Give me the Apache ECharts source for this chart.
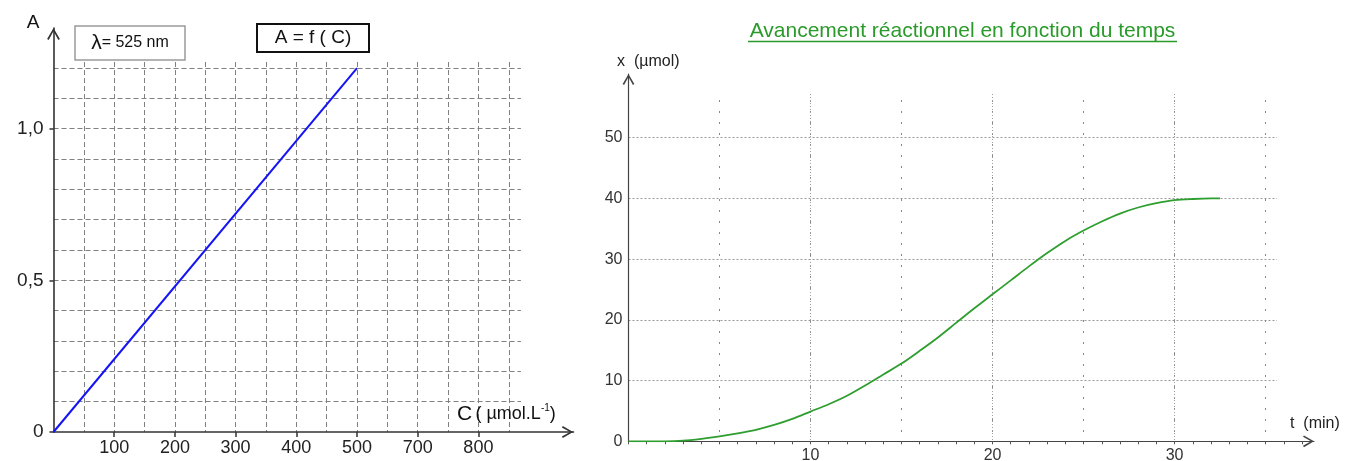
<!DOCTYPE html>
<html><head><meta charset="utf-8">
<script src="https://cdn.jsdelivr.net/npm/echarts@6/dist/echarts.min.js"></script>
<style>html,body{margin:0;padding:0;background:#fff}#c{width:1348px;height:461px}</style>
</head><body><div id="c"></div>
<script>
// ---------- Left chart: A = f(C) ----------
const concentration = [0, 500];          // C (µmol.L-1)
const absorbance = [0, 1.2];             // A
const leftXTickValues = [100, 200, 300, 400, 500, 600, 700];
const leftXTickLabels = ['100', '200', '300', '400', '500', '700', '800'];
const leftYTickValues = [0, 0.5, 1.0];
const leftYTickLabels = ['0', '0,5', '1,0'];

// ---------- Right chart: x = f(t) ----------
const time = [0,1,2,3,4,5,6,7,8,9,10,11,12,13,14,15,16,17,18,19,20,21,22,23,24,25,26,27,28,29,30,31,32,32.5];
const advancement = [0,0,0,0.1,0.4,0.8,1.3,1.9,2.7,3.7,4.9,6.1,7.5,9.2,11.0,12.8,14.9,17.1,19.5,21.9,24.2,26.5,28.8,31.0,33.0,34.7,36.2,37.5,38.5,39.2,39.7,39.9,40.0,40.0];
const rightXTickValues = [10, 20, 30];
const rightYTickValues = [0, 10, 20, 30, 40, 50];
const rightMinorTicks = [0,1,2,3,4,5,6,7,8,9,10,11,12,13,14,15,16,17,18,19,20,21,22,23,24,25,26,27,28,29,30,31,32,33,34,35,36,37];

const FONT = '"Liberation Sans", Arial, sans-serif';
const chevron = 'path://M5,0 L10,8.6 L8.8,9.4 L5,2.6 L1.2,9.4 L0,8.6 Z';

function pick(values, labels, v) {
  for (let i = 0; i < values.length; i++) if (Math.abs(values[i] - v) < 1e-6) return labels[i];
  return '';
}
const hidden = { show: false };
const splitOnly = (gi, min, max, interval, style) => ({
  gridIndex: gi, type: 'value', min, max, interval,
  axisLine: hidden, axisTick: hidden, axisLabel: hidden,
  splitLine: { show: true, showMinLine: false, showMaxLine: false, lineStyle: style }
});

const chart = echarts.init(document.getElementById('c'), null, { renderer: 'canvas' });
chart.setOption({
  animation: false,
  backgroundColor: '#fff',
  textStyle: { fontFamily: FONT },
  grid: [
    { left: 53.5, top: 62, width: 467.4, height: 370, outerBoundsMode: 'none' },     // L1 grid lines
    { left: 53.5, top: 28, width: 520, height: 404, outerBoundsMode: 'none' },       // L2 axes
    { left: 628.5, top: 100, width: 648.5, height: 341.3, outerBoundsMode: 'none' }, // R1 grid lines
    { left: 628.5, top: 94, width: 648.5, height: 347.3, outerBoundsMode: 'none' },  // R3 10-min lines
    { left: 628.5, top: 74, width: 685.5, height: 367.3, outerBoundsMode: 'none' }   // R2 axes
  ],
  xAxis: [
    splitOnly(0, 0, 770, 50, { color: '#808080', type: [5, 3], width: 1 }),
    {
      gridIndex: 1, type: 'value', min: 0, max: 856.7,
      axisLine: { show: true, symbol: ['none', chevron], symbolSize: [12, 12], symbolOffset: [0, -6],
                  lineStyle: { color: '#333', width: 1.6 } },
      axisTick: { show: true, customValues: leftXTickValues, length: 5, lineStyle: { color: '#333', width: 1.5 } },
      axisLabel: { show: true, customValues: leftXTickValues, margin: 7, fontSize: 18, color: '#222', fontFamily: FONT,
                   formatter: v => pick(leftXTickValues, leftXTickLabels, v) },
      splitLine: hidden
    },
    splitOnly(2, 0, 35.63, 5, { color: '#888', type: [2, 9], width: 1 }),
    splitOnly(3, 0, 35.63, 10, { color: '#a0a0a0', type: [1, 2], width: 1 }),
    {
      gridIndex: 4, type: 'value', min: 0, max: 37.66,
      axisLine: { show: true, symbol: ['none', chevron], symbolSize: [13, 11], symbolOffset: [0, -5.5],
                  lineStyle: { color: '#444', width: 1.2 } },
      axisTick: { show: true, customValues: rightMinorTicks, length: 3, lineStyle: { color: '#555', width: 1 } },
      axisLabel: { show: true, customValues: rightXTickValues, margin: 6, fontSize: 16, color: '#333', fontFamily: FONT,
                   formatter: v => pick(rightXTickValues, rightXTickValues.map(String), v) },
      splitLine: hidden
    }
  ],
  yAxis: [
    splitOnly(0, 0, 1.22, 0.1, { color: '#808080', type: [5, 3], width: 1 }),
    {
      gridIndex: 1, type: 'value', min: 0, max: 1.332,
      axisLine: { show: true, symbol: ['none', chevron], symbolSize: [14, 12], symbolOffset: [0, -6],
                  lineStyle: { color: '#333', width: 1.6 } },
      axisTick: { show: true, customValues: leftYTickValues, length: 4, lineStyle: { color: '#333', width: 1.5 } },
      axisLabel: { show: true, customValues: leftYTickValues, margin: 10, fontSize: 19, color: '#222', fontFamily: FONT,
                   formatter: v => pick(leftYTickValues, leftYTickLabels, v) },
      splitLine: hidden
    },
    splitOnly(2, 0, 56.2, 10, { color: '#999', type: [2, 2], width: 1 }),
    { gridIndex: 3, type: 'value', min: 0, max: 57.2, show: false },
    {
      gridIndex: 4, type: 'value', min: 0, max: 60.5,
      axisLine: { show: true, symbol: ['none', chevron], symbolSize: [13, 11], symbolOffset: [0, -5.5],
                  lineStyle: { color: '#444', width: 1.2 } },
      axisTick: hidden,
      axisLabel: { show: true, customValues: rightYTickValues, margin: 6, fontSize: 16, color: '#333', fontFamily: FONT,
                   formatter: v => pick(rightYTickValues, rightYTickValues.map(String), v) },
      splitLine: hidden
    }
  ],
  series: [
    {
      type: 'line', xAxisIndex: 0, yAxisIndex: 0, showSymbol: false, silent: true,
      data: concentration.map((c, i) => [c, absorbance[i]]),
      lineStyle: { color: '#1414f5', width: 2 }, z: 5
    },
    {
      type: 'line', xAxisIndex: 2, yAxisIndex: 2, showSymbol: false, silent: true, smooth: 0.3,
      data: time.map((t, i) => [t, advancement[i]]),
      lineStyle: { color: '#2e9e2e', width: 1.8 }, z: 5
    }
  ],
  graphic: [
    { type: 'rect', shape: { x: 75, y: 26, width: 110, height: 34 }, style: { fill: '#fff', stroke: '#9a9a9a', lineWidth: 1.5 }, z: 10 },
    { type: 'text', x: 130, y: 43, style: { text: '{l|λ}= 525 nm', rich: { l: { fontSize: 21, fontFamily: FONT, fill: '#111' } },
      fontSize: 16, fontFamily: FONT, fill: '#111', align: 'center', verticalAlign: 'middle' }, z: 11 },
    { type: 'rect', shape: { x: 257, y: 24, width: 112, height: 28 }, style: { fill: '#fff', stroke: '#111', lineWidth: 2 }, z: 10 },
    { type: 'text', x: 313, y: 38, style: { text: 'A = f ( C)', fontSize: 19, fontFamily: FONT, fill: '#111', align: 'center', verticalAlign: 'middle' }, z: 11 },
    { type: 'text', x: 33, y: 23, style: { text: 'A', fontSize: 19, fontFamily: FONT, fill: '#111', align: 'center', verticalAlign: 'middle' }, z: 11 },
    { type: 'text', x: 457, y: 414, style: { text: '{c|C} {n|( µmol.L}{s|-1}{n|)}',
      rich: { c: { fontSize: 21, fontFamily: FONT, fill: '#111' }, n: { fontSize: 18, fontFamily: FONT, fill: '#111' },
              s: { fontSize: 10, fontFamily: FONT, fill: '#111', verticalAlign: 'top', padding: [0, 0, 9, 0] } },
      align: 'left', verticalAlign: 'middle' }, z: 11 },
    { type: 'text', x: 962.5, y: 31, style: { text: 'Avancement réactionnel en fonction du temps', fontSize: 21, fontFamily: FONT,
      fill: '#2a9a2a', align: 'center', verticalAlign: 'middle' }, z: 11 },
    { type: 'line', shape: { x1: 748, y1: 41.5, x2: 1177, y2: 41.5 }, style: { stroke: '#2a9a2a', lineWidth: 1.3 }, z: 11 },
    { type: 'text', x: 617, y: 62, style: { text: 'x  (µmol)', fontSize: 16, fontFamily: FONT, fill: '#222', align: 'left', verticalAlign: 'middle' }, z: 11 },
    { type: 'text', x: 1290, y: 424, style: { text: 't  (min)', fontSize: 16, fontFamily: FONT, fill: '#222', align: 'left', verticalAlign: 'middle' }, z: 11 }
  ]
});
</script>
</body></html>
